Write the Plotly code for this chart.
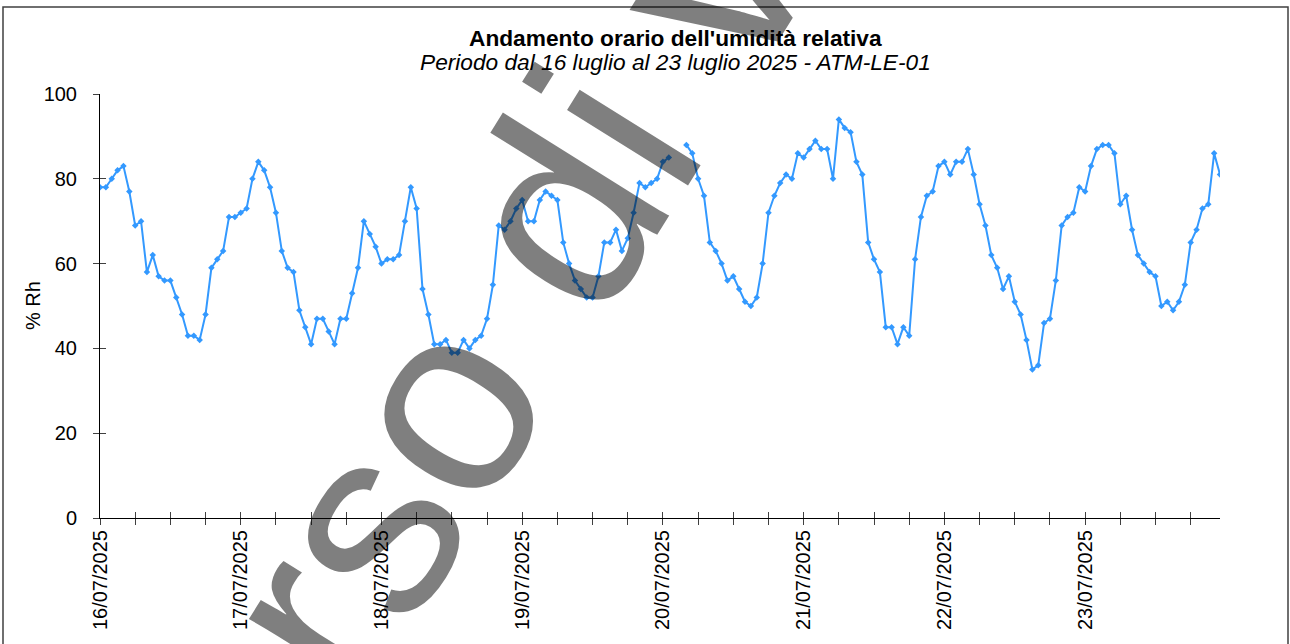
import plotly.graph_objects as go

# ---- data -------------------------------------------------------------
day_labels = ["16/07/2025", "17/07/2025", "18/07/2025", "19/07/2025",
              "20/07/2025", "21/07/2025", "22/07/2025", "23/07/2025"]
hours_per_day = 24
tick_step = 6

rh = [
    78, 78, 80, 82, 83, 77, 69, 70, 58, 62, 57, 56, 56, 52, 48, 43, 43, 42, 48, 59, 61, 63, 71, 71,
    72, 73, 80, 84, 82, 78, 72, 63, 59, 58, 49, 45, 41, 47, 47, 44, 41, 47, 47, 53, 59, 70, 67, 64,
    60, 61, 61, 62, 70, 78, 73, 54, 48, 41, 41, 42, 39, 39, 42, 40, 42, 43, 47, 55, 69, 68, 70, 73,
    75, 70, 70, 75, 77, 76, 75, 65, 60, 56, 54, 52, 52, 57, 65, 65, 68, 63, 66, 72, 79, 78, 79, 80,
    84, 85, None, None, 88, 86, 80, 76, 65, 63, 60, 56, 57, 54, 51, 50, 52, 60, 72, 76, 79, 81, 80, 86,
    85, 87, 89, 87, 87, 80, 94, 92, 91, 84, 81, 65, 61, 58, 45, 45, 41, 45, 43, 61, 71, 76, 77, 83,
    84, 81, 84, 84, 87, 81, 74, 69, 62, 59, 54, 57, 51, 48, 42, 35, 36, 46, 47, 56, 69, 71, 72, 78,
    77, 83, 87, 88, 88, 86, 74, 76, 68, 62, 60, 58, 57, 50, 51, 49, 51, 55, 65, 68, 73, 74, 86, 81,
]
hour_index = list(range(len(rh)))

tick_vals = list(range(0, len(rh), tick_step))
tick_text = [day_labels[v // hours_per_day] if v % hours_per_day == 0 else "" for v in tick_vals]
y_ticks = [0, 20, 40, 60, 80, 100]

title_text = "Andamento orario dell'umidità relativa"
subtitle_text = "Periodo dal 16 luglio al 23 luglio 2025 - ATM-LE-01"
y_title = "% Rh"
watermark = "in corso di validazione"

# ---- figure -----------------------------------------------------------
FONT = "Liberation Sans, Arial, sans-serif"
W, H = 1290, 644
L, R, T, B = 100, 70, 94, 126
pw, ph = W - L - R, H - T - B

def px(x):                    # screen x -> paper
    return (x - L) / pw

def py(y):                    # screen y -> paper
    return (H - B - y) / ph

fig = go.Figure()
fig.add_trace(go.Scatter(
    x=hour_index, y=rh, mode="lines+markers",
    line=dict(color="#3399FF", width=2),
    marker=dict(symbol="diamond", size=5, color="#3399FF"),
    connectgaps=False, hoverinfo="skip", showlegend=False,
))
# invisible helper trace for the overlay axes (cross tick marks)
fig.add_trace(go.Scatter(x=[0], y=[None], xaxis="x2", yaxis="y2",
                         showlegend=False, hoverinfo="skip"))

tick_color = "#404040"
fig.update_layout(
    width=W, height=H,
    margin=dict(l=L, r=R, t=T, b=B),
    paper_bgcolor="white", plot_bgcolor="white",
    font=dict(family=FONT, size=20, color="black"),
    xaxis=dict(
        range=[0, len(rh) - 1], tickmode="array", tickvals=tick_vals, ticktext=tick_text,
        tickangle=-90, ticks="outside", ticklen=6, tickcolor=tick_color, tickwidth=1,
        showline=True, linecolor="black", linewidth=1, showgrid=False, zeroline=False,
        tickfont=dict(size=20), ticklabelstandoff=-3, automargin=False,
    ),
    yaxis=dict(
        range=[0, 100], tickmode="array", tickvals=y_ticks,
        ticks="outside", ticklen=6, tickcolor=tick_color, tickwidth=1,
        showline=True, linecolor="black", linewidth=1, showgrid=False, zeroline=False,
        tickfont=dict(size=20), ticklabelstandoff=12, automargin=False,
    ),
    xaxis2=dict(overlaying="x", matches="x", anchor="y2", side="bottom",
                tickmode="array", tickvals=tick_vals, ticks="inside", ticklen=6,
                tickcolor=tick_color, tickwidth=1, showticklabels=False,
                showline=False, showgrid=False, zeroline=False),
    yaxis2=dict(overlaying="y", matches="y", anchor="x2", side="left",
                tickmode="array", tickvals=y_ticks, ticks="inside", ticklen=6,
                tickcolor=tick_color, tickwidth=1, showticklabels=False,
                showline=False, showgrid=False, zeroline=False),
    annotations=[
        dict(text="<b>" + title_text + "</b>", x=px(675), y=py(38), xref="paper", yref="paper",
             showarrow=False, xanchor="center", yanchor="middle",
             font=dict(size=22.7, family=FONT)),
        dict(text="<i>" + subtitle_text + "</i>", x=px(675), y=py(62), xref="paper", yref="paper",
             showarrow=False, xanchor="center", yanchor="middle",
             font=dict(size=22.7, family=FONT)),
        dict(text=y_title, x=px(33), y=py(306), xref="paper", yref="paper",
             showarrow=False, xanchor="center", yanchor="middle", textangle=-90,
             font=dict(size=20, family=FONT)),
        dict(text=watermark, x=px(683), y=py(18), xref="paper", yref="paper",
             showarrow=False, xanchor="center", yanchor="middle", textangle=-58,
             font=dict(size=270, family=FONT, color="rgba(0,0,0,0.5)")),
    ],
    shapes=[
        dict(type="rect", xref="paper", yref="paper",
             x0=px(3), x1=px(1288), y0=py(700), y1=py(7),
             line=dict(color="#404040", width=1.5), fillcolor="rgba(0,0,0,0)", layer="above"),
    ],
)

fig.write_html("out.html",
               config={"displayModeBar": False},
               post_script="document.body.style.margin='0';document.body.style.overflow='hidden';")
